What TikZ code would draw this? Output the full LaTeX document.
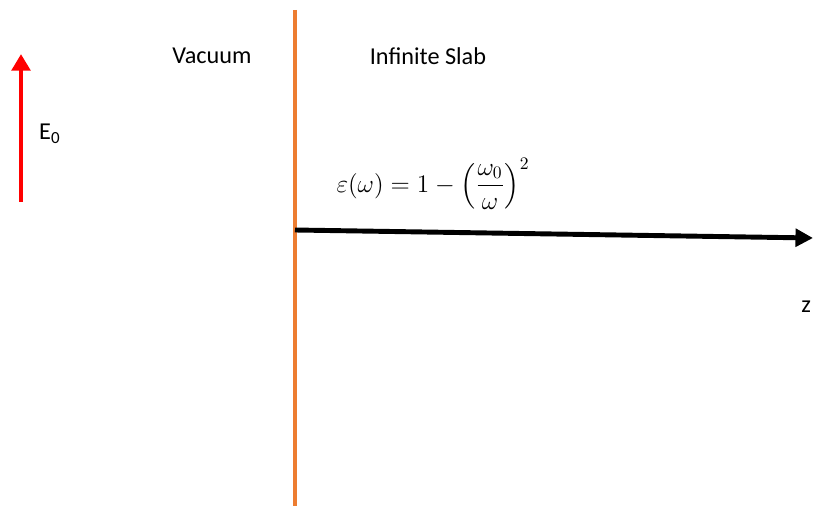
\documentclass[tikz,border=0pt]{standalone}
\usepackage{fontspec}
\setmainfont{Carlito}
\usepackage{amsmath}
\usetikzlibrary{arrows.meta}
\definecolor{slaborange}{RGB}{237,125,49}
\begin{document}
\begin{tikzpicture}[x=0.02cm,y=-0.02cm,font=\fontsize{13.8}{16}\selectfont]
\useasboundingbox (0,0) rectangle (813,506);
% interface
\coordinate (top) at (295,10);
\coordinate (bot) at (295,506);
\draw[slaborange,line width=2.3pt] (top) -- (bot);
% z axis
\coordinate (zstart) at (295,230);
\coordinate (zend) at (813,238);
\draw[line width=2.8pt,-{Triangle[length=10pt,width=10pt]}] (zstart) -- (zend);
% incident field
\coordinate (efoot) at (21,202);
\coordinate (ehead) at (21,54);
\draw[red,line width=2.8pt,-{Triangle[length=9.5pt,width=10.5pt]}] (efoot) -- (ehead);
\node[anchor=west] (elabel) at (33,134) {E\textsubscript{0}};
\node (vac) at (212,56) {Vacuum};
\node (slab) at (428,56) {Infinite Slab};
\node (eps) at (433,184) {$\displaystyle\varepsilon(\omega)=1-\left(\frac{\omega_0}{\omega}\right)^{2}$};
\node[anchor=east,inner sep=1pt] (zlabel) at (813,307) {z};
\end{tikzpicture}
\end{document}
